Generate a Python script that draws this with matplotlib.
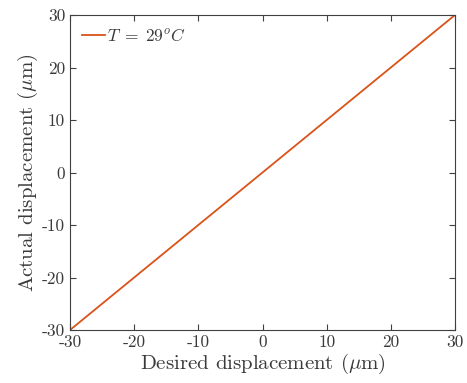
import matplotlib
matplotlib.use("Agg")
import matplotlib.pyplot as plt

plt.rcParams['font.family'] = 'serif'
plt.rcParams['font.serif'] = ['cmr10']
plt.rcParams['mathtext.fontset'] = 'cm'
plt.rcParams['axes.unicode_minus'] = False

desired = [-30, -20, -10, 0, 10, 20, 30]
actual = [-30, -20, -10, 0, 10, 20, 30]
ticks = [-30, -20, -10, 0, 10, 20, 30]
tick_labels = ['-30', '-20', '-10', '0', '10', '20', '30']

fig = plt.figure(figsize=(4.67, 3.83), dpi=100)
ax = fig.add_axes([70/467, 1 - 330/383, (455-70)/467, (330-15)/383])
ax.plot(desired, actual, color='#D95319', lw=1.3, label=r'$T\;=\;29^oC$')
ax.set_xlim(-30, 30)
ax.set_ylim(-30, 30)
ax.set_xticks(ticks)
ax.set_xticklabels(tick_labels)
ax.set_yticks(ticks)
ax.set_yticklabels(tick_labels)
gc = '#404040'
for s in ax.spines.values():
    s.set_color(gc)
    s.set_linewidth(0.8)
ax.tick_params(direction='in', top=True, right=True, length=4, width=0.8,
               colors=gc, labelsize=12.5, labelcolor='#3a3a3a')
ax.set_xlabel(r'Desired displacement ($\mu$m)', fontsize=15, color='#3a3a3a', labelpad=1)
ax.set_ylabel(r'Actual displacement ($\mu$m)', fontsize=15, color='#3a3a3a', labelpad=1)
leg = ax.legend(loc='upper left', frameon=False, fontsize=12.5, handlelength=1.3,
                handletextpad=0.15, borderaxespad=0.3)
for t in leg.get_texts():
    t.set_color('#3a3a3a')
fig.savefig('out.png', dpi=100)
